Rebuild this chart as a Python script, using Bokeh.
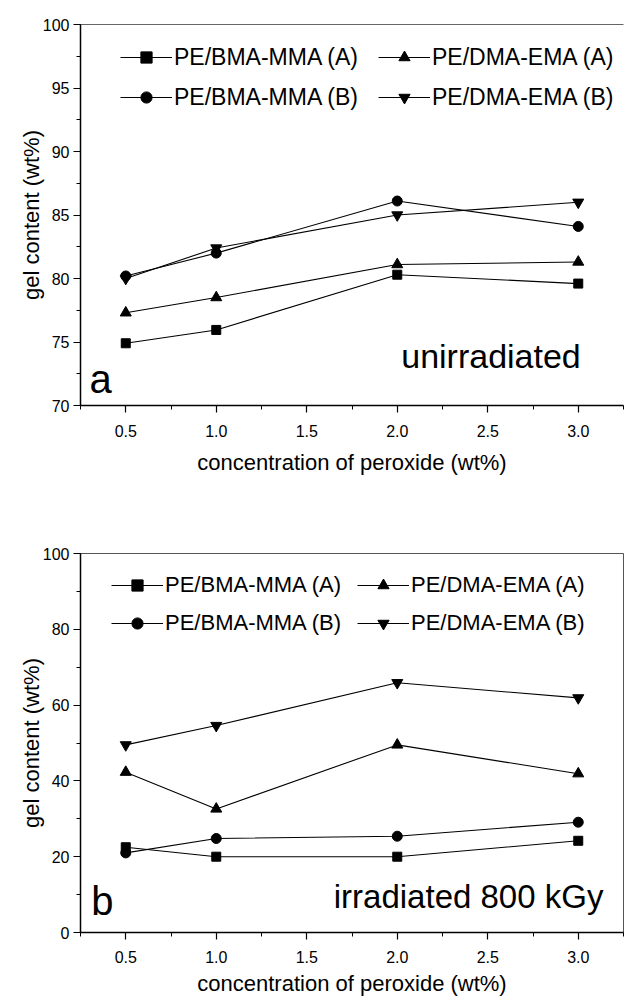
from bokeh.plotting import figure
from bokeh.models import (Range1d, SingleIntervalTicker, PrintfTickFormatter, Legend,
                          LegendItem, Label, LinearAxis, FixedTicker)
from bokeh.layouts import column
from bokeh.embed import file_html
from bokeh.resources import INLINE

# ---------------- data ----------------
conc = [0.5, 1.0, 2.0, 3.0]
series_names = ["PE/BMA-MMA (A)", "PE/DMA-EMA (A)", "PE/BMA-MMA (B)", "PE/DMA-EMA (B)"]
series_markers = ["square", "triangle", "circle", "inverted_triangle"]
series_sizes = [9, 11, 10, 11]

# (a) unirradiated
unirr_bma_A = [74.9, 75.95, 80.3, 79.6]
unirr_dma_A = [77.3, 78.5, 81.1, 81.3]
unirr_bma_B = [80.2, 82.0, 86.1, 84.1]
unirr_dma_B = [80.0, 82.4, 85.0, 86.0]

# (b) irradiated 800 kGy
irr_bma_A = [22.5, 20.0, 20.0, 24.2]
irr_dma_A = [42.3, 32.6, 49.5, 41.9]
irr_bma_B = [21.0, 24.8, 25.4, 29.1]
irr_dma_B = [49.5, 54.6, 65.9, 61.9]

x_label = "concentration of peroxide (wt%)"
y_label = "gel content (wt%)"

FONT = "Liberation Sans"


def style_axes(p, y_interval, bottom_label_standoff, title_standoff):
    for ax in (p.xaxis[0], p.yaxis[0]):
        ax.axis_line_color = "black"
        ax.axis_line_width = 1.5
        ax.major_tick_line_color = "black"
        ax.minor_tick_line_color = "black"
        ax.major_tick_line_width = 1.2
        ax.minor_tick_line_width = 1
        ax.major_tick_in = 0
        ax.major_tick_out = 7
        ax.minor_tick_in = 0
        ax.minor_tick_out = 4
        ax.major_label_text_font = FONT
        ax.major_label_text_font_size = "16px"
        ax.major_label_text_color = "black"
        ax.axis_label_text_font = FONT
        ax.axis_label_text_font_size = "22px"
        ax.axis_label_text_font_style = "normal"
        ax.axis_label_text_color = "black"
    p.xaxis[0].ticker = SingleIntervalTicker(interval=0.5, num_minor_ticks=2)
    p.xaxis[0].formatter = PrintfTickFormatter(format="%.1f")
    p.yaxis[0].ticker = SingleIntervalTicker(interval=y_interval, num_minor_ticks=2)
    p.yaxis[0].formatter = PrintfTickFormatter(format="%d")
    p.xaxis[0].major_label_standoff = bottom_label_standoff
    p.xaxis[0].axis_label_standoff = title_standoff
    p.yaxis[0].major_label_standoff = 4
    p.yaxis[0].axis_label_standoff = -4
    p.xaxis[0].axis_label = x_label
    p.yaxis[0].axis_label = y_label
    p.xgrid.visible = False
    p.ygrid.visible = False


def add_series(p, ys_list, legend_loc, font_size, label_width, spacing):
    items = []
    for name, ys, mk, sz in zip(series_names, ys_list, series_markers, series_sizes):
        lr = p.line(conc, ys, line_color="black", line_width=1.1)
        sr = p.scatter(conc, ys, marker=mk, size=sz, fill_color="black", line_color="black")
        items.append(LegendItem(label=name, renderers=[lr, sr]))
    leg = Legend(items=items, location=legend_loc, orientation="horizontal", ncols=2,
                 glyph_width=52, glyph_height=28, label_height=28, label_width=label_width,
                 label_standoff=2, spacing=spacing, padding=0, margin=0,
                 border_line_color=None, background_fill_alpha=0,
                 label_text_font=FONT, label_text_font_size=font_size,
                 label_text_color="black")
    p.add_layout(leg)


# ---------------- panel a ----------------
pa = figure(width=631, height=490, output_backend="svg", toolbar_location=None,
            x_range=Range1d(0.25, 3.25), y_range=Range1d(70, 100),
            min_border_left=80, min_border_right=0, min_border_top=24, min_border_bottom=85,
            outline_line_color=None, background_fill_color="white", border_fill_color="white")
style_axes(pa, 5, 12, 10)
top_a = LinearAxis(ticker=FixedTicker(ticks=[]), axis_line_color="#666666", axis_line_width=1.2,
                   major_tick_line_color=None, minor_tick_line_color=None,
                   major_label_text_font_size="0px")
pa.add_layout(top_a, "above")
add_series(pa, [unirr_bma_A, unirr_dma_A, unirr_bma_B, unirr_dma_B], (40, 294), "23px", 192, 12)
pa.add_layout(Label(x=3.014, y=73.9, text="unirradiated", text_align="right",
                    text_baseline="alphabetic", text_font=FONT, text_font_size="34px",
                    text_color="black"))
pa.add_layout(Label(x=0.30, y=72.1, text="a", text_align="left",
                    text_baseline="alphabetic", text_font=FONT, text_font_size="40px",
                    text_color="black"))

# ---------------- panel b ----------------
pb = figure(width=631, height=510, output_backend="svg", toolbar_location=None,
            x_range=Range1d(0.25, 3.25), y_range=Range1d(0, 100),
            min_border_left=77, min_border_right=8, min_border_top=63, min_border_bottom=68,
            outline_line_color="#555555", outline_line_width=1,
            background_fill_color="white", border_fill_color="white")
style_axes(pb, 20, 11, 5)
add_series(pb, [irr_bma_A, irr_dma_A, irr_bma_B, irr_dma_B], (31, 295), "22px", 182, 10)
pb.add_layout(Label(x=3.139, y=9.4, text="irradiated 800 kGy", text_align="right",
                    text_baseline="alphabetic", text_font=FONT, text_font_size="33px",
                    text_color="black"))
pb.add_layout(Label(x=0.31, y=8.4, text="b", text_align="left",
                    text_baseline="alphabetic", text_font=FONT, text_font_size="40px",
                    text_color="black"))

layout = column(pa, pb, spacing=0)
open("out.html", "w").write(file_html(layout, INLINE))
